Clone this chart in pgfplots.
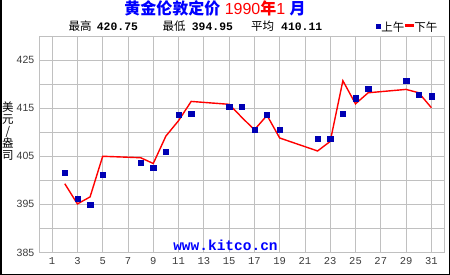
\documentclass[border=0pt]{standalone}
\usepackage{pgfplots}
\pgfplotsset{compat=1.18}
\usepackage{fontspec}
\setmainfont{Liberation Sans}
\newfontfamily\cjk{Noto Sans CJK SC}
\newfontfamily\mono{Liberation Mono}
\definecolor{tblue}{RGB}{0,0,255}
\definecolor{mblue}{RGB}{0,0,180}
\definecolor{gridgray}{RGB}{192,192,192}
\definecolor{ticktext}{RGB}{60,60,60}

\pgfplotstableread{
day am
2 401.6
3 396.2
4 395.0
5 401.2
8 403.7
9 402.6
10 405.95
11 413.6
12 413.8
15 415.3
16 415.3
17 410.5
18 413.6
19 410.5
22 408.6
23 408.6
24 413.8
25 417.1
26 419.0
29 420.65
30 417.8
31 417.5
}\amdata

\pgfplotstableread{
day pm
2 399.3
3 395.1
4 396.55
5 405.0
8 404.7
9 403.5
10 409.2
11 412.4
12 416.4
15 415.8
16 413.1
17 410.5
18 413.5
19 408.8
22 406.1
23 408.1
24 420.7
25 415.9
26 418.2
29 418.9
30 418.2
31 415.1
}\pmdata

\begin{document}
\begin{tikzpicture}
\useasboundingbox (0pt,0pt) rectangle (450pt,275pt);
\fill[white] (0pt,0pt) rectangle (450pt,275pt);
\begin{axis}[
  at={(39.5pt,22.5pt)}, anchor=south west,
  scale only axis, width=404.5pt, height=216.5pt,
  xmin=0, xmax=32, ymin=385, ymax=430,
  xtick={1,3,...,31},
  ytick={385,395,...,425},
  extra y ticks={390,400,...,430},
  extra y tick labels={},
  grid=major,
  grid style={gridgray, line width=0.8pt},
  axis line style={gridgray, line width=0.8pt},
  major tick length=0pt,
  /pgf/number format/assume math mode=true,
  xticklabel style={font=\mono\fontsize{10.5}{12}\selectfont, text=ticktext, yshift=-1.7pt},
  yticklabel style={font=\fontsize{10.5}{12}\selectfont, text=ticktext, xshift=-1.7pt},
  ylabel={美\\元\\/\\盎\\司},
  ylabel style={rotate=-90, at={(axis description cs:-0.078,0.559)}, anchor=center,
    align=center, font=\cjk\fontsize{11.5}{12}\selectfont, inner sep=0pt},
  legend style={draw=none, fill=none, inner sep=0pt, outer sep=0pt,
    at={(axis description cs:0.985,1.0402)}, anchor=east,
    font=\cjk\fontsize{11.5}{12}\selectfont,
    nodes={inner sep=0.6pt, text=black}},
  legend columns=2,
]
\addplot[red, line width=1.4pt, forget plot] table[x=day, y=pm] {\pmdata};
\addplot[only marks, mark=square*, mark size=2.65pt,
  mark options={draw=mblue, fill=mblue}, forget plot] table[x=day, y=am] {\amdata};
\addlegendimage{legend image code/.code={\fill[mblue] (0pt,-0.5pt) rectangle (4pt,3.5pt);}}
\addlegendentry{上午}
\addlegendimage{legend image code/.code={\fill[red] (0pt,1pt) rectangle (8.3pt,3pt);}}
\addlegendentry{下午}
\end{axis}
% title
\node[anchor=base, inner sep=0pt, font=\fontsize{16}{18}\selectfont] at (215pt,260pt)
  {{\cjk\bfseries\color{tblue}黄金伦敦定价} {\color{red}1990{\cjk\bfseries 年}1} {\cjk\bfseries\color{tblue}月}};
% stats
\node[anchor=base west, inner sep=0pt, font=\cjk\fontsize{11.5}{12}\selectfont] at (68.3pt,244.5pt) {最高};
\node[anchor=base west, inner sep=0pt, font=\mono\bfseries\fontsize{11.4}{12}\selectfont] at (96.7pt,244.5pt) {420.75};
\node[anchor=base west, inner sep=0pt, font=\cjk\fontsize{11.5}{12}\selectfont] at (162.3pt,244.5pt) {最低};
\node[anchor=base west, inner sep=0pt, font=\mono\bfseries\fontsize{11.4}{12}\selectfont] at (191.7pt,244.5pt) {394.95};
\node[anchor=base west, inner sep=0pt, font=\cjk\fontsize{11.5}{12}\selectfont] at (251pt,244.5pt) {平均};
\node[anchor=base west, inner sep=0pt, font=\mono\bfseries\fontsize{11.4}{12}\selectfont] at (281pt,244.5pt) {410.11};
% watermark
\node[inner sep=0pt, text=tblue, font=\mono\bfseries\fontsize{14.5}{16}\selectfont] at (225.5pt,29.5pt) {www.kitco.cn};
% outer border
\draw[black, line width=2pt] (1pt,0pt) -- (1pt,275pt);
\draw[black, line width=1pt] (449.5pt,0pt) -- (449.5pt,275pt);
\draw[black, line width=1pt] (0pt,0.5pt) -- (450pt,0.5pt);
\end{tikzpicture}
\end{document}
